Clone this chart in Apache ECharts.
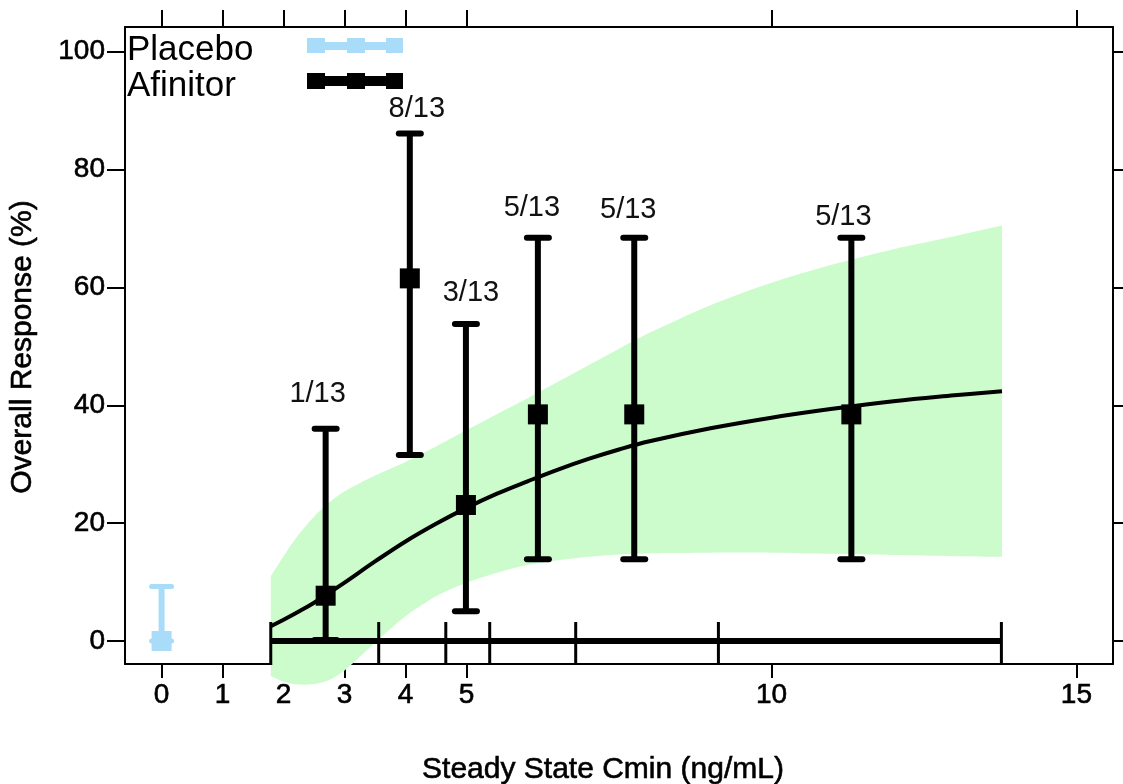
<!DOCTYPE html>
<html>
<head>
<meta charset="utf-8">
<title>Overall Response vs Steady State Cmin</title>
<script src="https://cdn.jsdelivr.net/npm/echarts@6/dist/echarts.min.js"></script>
<style>
  html, body { margin: 0; padding: 0; background: #ffffff; }
  #chart { width: 1123px; height: 784px; }
</style>
</head>
<body>
<div id="chart"></div>
<script>
// Afinitor exposure bins: median Cmin (ng/mL), response rate (%) and exact 95% CI
const binMedian = [2.69, 4.07, 4.99, 6.17, 7.75, 11.31];
const responseRate = [7.69, 61.54, 23.08, 38.46, 38.46, 38.46];
const ciLower = [0.19, 31.58, 5.04, 13.86, 13.86, 13.86];
const ciUpper = [36.03, 86.14, 53.81, 68.42, 68.42, 68.42];
const responderLabels = ['1/13', '8/13', '3/13', '5/13', '5/13', '5/13'];

// Placebo arm
const placeboCmin = [0];
const placeboRate = [0];
const placeboLower = [0];
const placeboUpper = [9.25];

// Cmin bin boundaries (ng/mL)
const binEdges = [1.79, 3.56, 4.66, 5.38, 6.79, 9.13, 13.77];

// Model-predicted response (%) and its confidence band
const fitCmin = [1.79, 2.0, 2.25, 2.5, 2.75, 3.0, 3.5, 4.0, 4.5, 5.0, 5.5, 6.0, 6.5, 7.0, 7.5, 8.0, 9.0, 10.0, 11.0, 12.0, 13.0, 13.78];
const fitRate = [2.5, 3.6, 5.0, 6.5, 8.2, 9.9, 13.5, 16.9, 19.9, 22.6, 25.0, 27.1, 29.1, 30.9, 32.5, 33.9, 36.1, 37.9, 39.4, 40.7, 41.7, 42.4];
const bandLower = [-6.0, -6.9, -7.4, -7.3, -6.6, -5.0, -0.3, 4.2, 7.6, 9.9, 11.6, 12.9, 13.7, 14.3, 14.7, 14.9, 15.0, 15.0, 14.8, 14.6, 14.4, 14.3];
const bandUpper = [11.0, 14.4, 18.1, 21.1, 23.5, 25.4, 28.1, 30.4, 33.0, 35.8, 38.5, 41.2, 44.0, 46.8, 49.6, 52.3, 57.0, 60.8, 63.9, 66.5, 68.7, 70.5];

// Axis ticks
const xTicks = [0, 1, 2, 3, 4, 5, 10, 15];
const yTicks = [0, 20, 40, 60, 80, 100];

const FONT = '"Liberation Sans", Arial, Helvetica, sans-serif';
const BLACK = '#000000';
const PLACEBO_BLUE = '#a8dcf8';
const BAND_GREEN = '#ccfccc';

// pixel nudges for the responder count labels (dx, dy from the upper cap)
const labelShift = [[-8, -35], [7, -24], [5, -31], [-6, -30], [-6, -28], [-8, -21]];

const chart = echarts.init(document.getElementById('chart'), null, { renderer: 'canvas' });

function errorBarRenderer(opts) {
  return function (params, api) {
    const x = api.value(0), y = api.value(1), lo = api.value(2), hi = api.value(3);
    const pMid = api.coord([x, y]);
    const pLo = api.coord([x, lo]);
    const pHi = api.coord([x, hi]);
    const half = opts.cap / 2;
    const s = opts.box;
    const children = [
      { type: 'line', shape: { x1: pLo[0], y1: pLo[1], x2: pHi[0], y2: pHi[1] },
        style: { stroke: opts.color, lineWidth: opts.width } },
      { type: 'line', shape: { x1: pHi[0] - half, y1: pHi[1], x2: pHi[0] + half, y2: pHi[1] },
        style: { stroke: opts.color, lineWidth: opts.capWidth, lineCap: 'round' } },
      { type: 'line', shape: { x1: pLo[0] - half, y1: pLo[1], x2: pLo[0] + half, y2: pLo[1] },
        style: { stroke: opts.color, lineWidth: opts.capWidth, lineCap: 'round' } },
      { type: 'rect', shape: { x: pMid[0] - s / 2, y: pMid[1] - s / 2, width: s, height: s },
        style: { fill: opts.color } }
    ];
    if (opts.labels) {
      const sh = labelShift[params.dataIndex];
      children.push({
        type: 'text',
        x: pHi[0] + sh[0],
        y: pHi[1] + sh[1],
        style: {
          text: opts.labels[params.dataIndex],
          fill: '#111111',
          fontSize: 29,
          fontFamily: FONT,
          align: 'center',
          verticalAlign: 'middle'
        }
      });
    }
    return { type: 'group', children: children };
  };
}

// confidence band polygon: upper edge left→right, lower edge right→left,
// corner points doubled so the smoothing keeps the vertical ends straight
function bandRenderer(params, api) {
  const pts = [];
  const n = fitCmin.length;
  for (let i = 0; i < n; i++) {
    const p = api.coord([fitCmin[i], bandUpper[i]]);
    pts.push(p);
    if (i === 0 || i === n - 1) pts.push(p.slice());
  }
  for (let i = n - 1; i >= 0; i--) {
    const p = api.coord([fitCmin[i], bandLower[i]]);
    pts.push(p);
    if (i === 0 || i === n - 1) pts.push(p.slice());
  }
  return {
    type: 'polygon',
    shape: { points: pts, smooth: 0.3 },
    style: { fill: BAND_GREEN, stroke: null }
  };
}

function binTickRenderer(params, api) {
  const p = api.coord([api.value(0), 0]);
  return {
    type: 'line',
    shape: { x1: p[0], y1: p[1] - 19, x2: p[0], y2: p[1] + 24 },
    style: { stroke: BLACK, lineWidth: 3 }
  };
}

const axisLineStyle = { show: true, onZero: false, lineStyle: { color: BLACK, width: 2 } };
const tickLabelStyle = { fontSize: 28, color: BLACK, fontFamily: FONT, textBorderColor: BLACK, textBorderWidth: 0.6 };
const titleStyle = { fontSize: 30, fontFamily: FONT, fill: BLACK, stroke: BLACK, lineWidth: 0.6, align: 'center', verticalAlign: 'middle' };

const option = {
  animation: false,
  backgroundColor: '#ffffff',
  textStyle: { fontFamily: FONT },
  grid: { left: 125, right: 10, top: 27, bottom: 120, containLabel: false },
  xAxis: [
    {
      type: 'value', position: 'bottom', min: -0.6, max: 15.6,
      axisLine: axisLineStyle,
      axisTick: { show: true, customValues: xTicks, length: 14, lineStyle: { color: BLACK, width: 2 } },
      axisLabel: Object.assign({ show: true, customValues: xTicks, margin: 17 }, tickLabelStyle),
      splitLine: { show: false }
    },
    {
      type: 'value', position: 'top', min: -0.6, max: 15.6,
      axisLine: axisLineStyle,
      axisTick: { show: true, customValues: xTicks, length: 17, lineStyle: { color: BLACK, width: 2 } },
      axisLabel: { show: false },
      splitLine: { show: false }
    }
  ],
  yAxis: [
    {
      type: 'value', position: 'left', min: -3.9, max: 104.2,
      axisLine: axisLineStyle,
      axisTick: { show: true, customValues: yTicks, length: 18, lineStyle: { color: BLACK, width: 2 } },
      axisLabel: Object.assign({ show: true, customValues: yTicks, margin: 20 }, tickLabelStyle),
      splitLine: { show: false }
    },
    {
      type: 'value', position: 'right', min: -3.9, max: 104.2,
      axisLine: axisLineStyle,
      axisTick: { show: true, customValues: yTicks, length: 18, lineStyle: { color: BLACK, width: 2 } },
      axisLabel: { show: false },
      splitLine: { show: false }
    }
  ],
  graphic: [
    { type: 'text', x: 23, y: 347, rotation: Math.PI / 2,
      style: Object.assign({ text: 'Overall Response (%)' }, titleStyle) },
    { type: 'text', x: 603, y: 770,
      style: Object.assign({ text: 'Steady State Cmin (ng/mL)' }, titleStyle) },
    { type: 'text', x: 127, y: 50,
      style: { text: 'Placebo', fontSize: 35, fontFamily: FONT, fill: BLACK, align: 'left', verticalAlign: 'middle' } },
    { type: 'text', x: 127, y: 86,
      style: { text: 'Afinitor', fontSize: 35, fontFamily: FONT, fill: BLACK, align: 'left', verticalAlign: 'middle' } },
    { type: 'group', children: [
      { type: 'line', shape: { x1: 308, y1: 46, x2: 402, y2: 46 }, style: { stroke: PLACEBO_BLUE, lineWidth: 8 } },
      { type: 'rect', shape: { x: 307, y: 38, width: 18, height: 15 }, style: { fill: PLACEBO_BLUE } },
      { type: 'rect', shape: { x: 347, y: 38, width: 18, height: 15 }, style: { fill: PLACEBO_BLUE } },
      { type: 'rect', shape: { x: 386, y: 38, width: 17, height: 15 }, style: { fill: PLACEBO_BLUE } }
    ] },
    { type: 'group', children: [
      { type: 'line', shape: { x1: 308, y1: 81, x2: 402, y2: 81 }, style: { stroke: BLACK, lineWidth: 10 } },
      { type: 'rect', shape: { x: 307, y: 73, width: 18, height: 16 }, style: { fill: BLACK } },
      { type: 'rect', shape: { x: 347, y: 73, width: 18, height: 16 }, style: { fill: BLACK } },
      { type: 'rect', shape: { x: 386, y: 73, width: 17, height: 16 }, style: { fill: BLACK } }
    ] }
  ],
  series: [
    {
      name: 'band', type: 'custom', renderItem: bandRenderer, clip: false, silent: true, z: 1,
      data: [[fitCmin[0], bandUpper[0]]]
    },
    {
      name: 'bins', type: 'line', symbol: 'none', silent: true, z: 3,
      lineStyle: { color: BLACK, width: 6 },
      data: binEdges.map(e => [e, 0])
    },
    {
      name: 'binTicks', type: 'custom', renderItem: binTickRenderer, clip: false, silent: true, z: 4,
      data: binEdges.map(e => [e])
    },
    {
      name: 'fit', type: 'line', smooth: 0.4, symbol: 'none', silent: true, z: 5,
      lineStyle: { color: BLACK, width: 4 },
      data: fitCmin.map((x, i) => [x, fitRate[i]])
    },
    {
      name: 'Placebo', type: 'custom', clip: false, z: 6,
      renderItem: errorBarRenderer({ color: PLACEBO_BLUE, width: 6, capWidth: 5, cap: 20, box: 20 }),
      data: placeboCmin.map((x, i) => [x, placeboRate[i], placeboLower[i], placeboUpper[i]])
    },
    {
      name: 'Afinitor', type: 'custom', clip: false, z: 6,
      renderItem: errorBarRenderer({ color: BLACK, width: 6, capWidth: 6, cap: 22, box: 20, labels: responderLabels }),
      data: binMedian.map((x, i) => [x, responseRate[i], ciLower[i], ciUpper[i]])
    }
  ]
};

chart.setOption(option);
</script>
</body>
</html>
